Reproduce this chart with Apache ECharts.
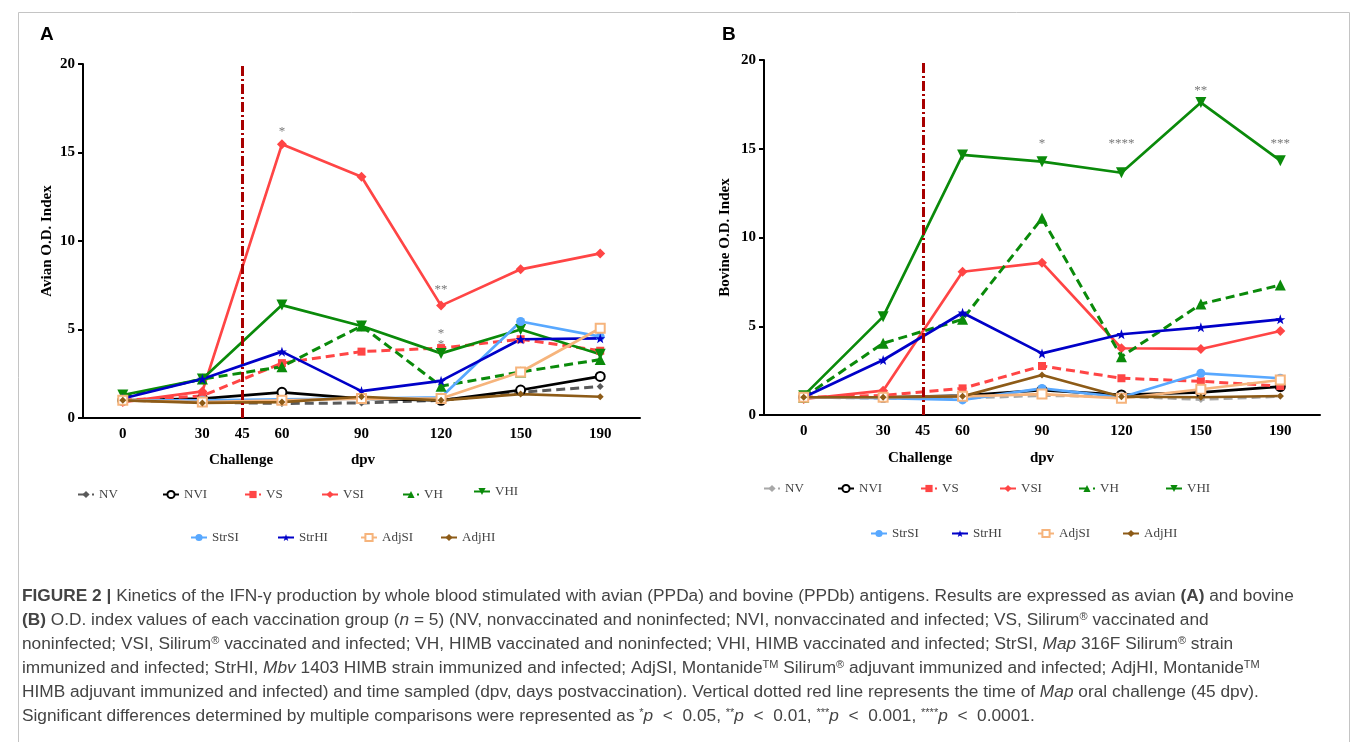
<!DOCTYPE html>
<html><head><meta charset="utf-8">
<script src="https://cdn.jsdelivr.net/npm/echarts@6/dist/echarts.min.js"></script>
<style>html,body{margin:0;padding:0;background:#fff}#c{width:1357px;height:742px}</style>
</head><body><div id="c"></div>
<script>
// ---------- DATA ----------
const xCategories = ['-15','0','15','30','45','60','75','90','105','120','135','150','170','190','210'];
const xTickLabels = ['0','30','45','60','90','120','150','190'];
const sampleDays = ['0','30','60','90','120','150','190'];
const challengeDay = '45';
const groups = ['NV','NVI','VS','VSI','VH','VHI','StrSI','StrHI','AdjSI','AdjHI'];

const avianNV    = [1.0, 0.9, 0.82, 0.85, 1.0, 1.45, 1.78];
const avianNVI   = [1.0, 1.1, 1.45, 1.1, 1.0, 1.58, 2.35];
const avianVS    = [1.0, 1.25, 3.1, 3.75, 3.95, 4.45, 3.8];
const avianVSI   = [0.9, 1.5, 15.46, 13.63, 6.35, 8.4, 9.3];
const avianVH    = [1.2, 2.2, 2.9, 5.2, 1.8, 2.6, 3.3];
const avianVHI   = [1.3, 2.2, 6.38, 5.2, 3.65, 5.0, 3.6];
const avianStrSI = [1.0, 1.0, 1.05, 1.1, 1.17, 5.45, 4.6];
const avianStrHI = [1.1, 2.2, 3.75, 1.52, 2.1, 4.45, 4.5];
const avianAdjSI = [1.0, 0.9, 1.0, 1.1, 1.1, 2.6, 5.07];
const avianAdjHI = [1.0, 0.85, 0.9, 1.2, 1.0, 1.35, 1.2];

const bovineNV    = [1.0, 0.95, 0.95, 1.1, 1.05, 0.88, 1.05];
const bovineNVI   = [1.0, 1.0, 1.1, 1.4, 1.13, 1.28, 1.6];
const bovineVS    = [1.0, 1.1, 1.5, 2.76, 2.07, 1.9, 1.63];
const bovineVSI   = [0.9, 1.37, 8.07, 8.58, 3.76, 3.72, 4.73];
const bovineVH    = [1.0, 4.04, 5.39, 11.08, 3.28, 6.25, 7.32];
const bovineVHI   = [1.09, 5.54, 14.65, 14.27, 13.65, 17.6, 14.33];
const bovineStrSI = [1.0, 0.95, 0.85, 1.5, 1.0, 2.35, 2.07];
const bovineStrHI = [1.0, 3.1, 5.76, 3.47, 4.55, 4.94, 5.39];
const bovineAdjSI = [1.0, 1.0, 1.05, 1.18, 0.94, 1.45, 1.97];
const bovineAdjHI = [1.0, 1.0, 1.05, 2.25, 1.03, 1.0, 1.07];

const avianSigDays  = ['60','120','120','120'];
const avianSigVals  = [16.4, 7.46, 4.97, 4.37];
const avianSigMarks = ['*','**','*','*'];
const bovineSigDays  = ['90','120','150','190'];
const bovineSigVals  = [15.5, 15.5, 18.5, 15.5];
const bovineSigMarks = ['*','****','**','***'];

const avianValues = {NV:avianNV,NVI:avianNVI,VS:avianVS,VSI:avianVSI,VH:avianVH,VHI:avianVHI,StrSI:avianStrSI,StrHI:avianStrHI,AdjSI:avianAdjSI,AdjHI:avianAdjHI};
const bovineValues = {NV:bovineNV,NVI:bovineNVI,VS:bovineVS,VSI:bovineVSI,VH:bovineVH,VHI:bovineVHI,StrSI:bovineStrSI,StrHI:bovineStrHI,AdjSI:bovineAdjSI,AdjHI:bovineAdjHI};

// ---------- STYLES ----------
const SERIF = '"Liberation Serif","Times New Roman",serif';
const SANS = '"Liberation Sans",Arial,sans-serif';
const starPath = 'path://M0,-10 L2.4,-3.1 9.5,-3.1 3.8,1.2 5.9,8.1 0,4 -5.9,8.1 -3.8,1.2 -9.5,-3.1 -2.4,-3.1 Z';
const styleOf = {
  NV:{colorA:'#5a5a5a',colorB:'#a8a8a8',dashed:true,symbol:'diamond',size:7},
  NVI:{color:'#000000',symbol:'emptyCircle',size:9},
  VS:{color:'#ff4545',dashed:true,symbol:'rect',size:8},
  VSI:{color:'#ff4545',symbol:'diamond',size:10},
  VH:{color:'#0a8a0a',dashed:true,symbol:'triangle',size:11},
  VHI:{color:'#0a8a0a',symbol:'triangle',rotate:180,size:11},
  StrSI:{color:'#58a8ff',symbol:'circle',size:9},
  StrHI:{color:'#0000c8',symbol:starPath,size:10},
  AdjSI:{color:'#f6b47c',symbol:'emptyRect',size:9},
  AdjHI:{color:'#8d5b17',symbol:'diamond',size:7}
};
const legendPosA = [[77,496],[162,496],[244,496],[321,496],[402,496],[473,493],[190,539],[277,539],[360,539],[440,539]];
const legendPosB = [[763,490],[837,490],[920,490],[999,490],[1078,490],[1165,490],[870,535],[951,535],[1037,535],[1122,535]];

function makeSeries(panel, idx, g, values) {
  const st = styleOf[g];
  const color = panel === 'A' ? (st.colorA || st.color) : (st.colorB || st.color);
  const empty = typeof st.symbol === 'string' && st.symbol.indexOf('empty') === 0;
  return {
    type:'line', name: panel + ':' + g, xAxisIndex: idx, yAxisIndex: idx,
    data: sampleDays.map((d,i) => [d, values[i]]),
    symbol: st.symbol, symbolSize: st.size, symbolRotate: st.rotate || 0, showAllSymbol: true,
    itemStyle: {color: color, borderWidth: empty ? 1.6 : 0},
    lineStyle: {color: color, width: st.dashed ? 3 : 2.7, type: st.dashed ? [9,5] : 'solid'},
    emphasis: {disabled: true}, animation: false
  };
}
function sigSeries(idx, days, vals, marks) {
  return {
    type:'scatter', xAxisIndex: idx, yAxisIndex: idx, symbol:'circle', symbolSize: 1,
    itemStyle:{color:'rgba(0,0,0,0)'}, animation:false, silent:true,
    data: days.map((d,i) => ({value:[d, vals[i]], mark: marks[i]})),
    label:{show:true, position:'inside', offset:[0,4], color:'#555', fontFamily:SERIF, fontSize:13,
      formatter: p => p.data.mark}
  };
}
function xAxisCfg(idx) {
  return {type:'category', gridIndex: idx, data: xCategories, boundaryGap:false,
    axisLine:{lineStyle:{color:'#000', width:2}}, axisTick:{show:false},
    axisLabel:{interval:0, margin:9, color:'#000', fontFamily:SERIF, fontWeight:'bold', fontSize:15,
      formatter: v => xTickLabels.indexOf(v) >= 0 ? v : ''},
    splitLine:{show:false}};
}
function yAxisCfg(idx, name, gap) {
  return {type:'value', gridIndex: idx, min:0, max:20, interval:5,
    axisLine:{show:true, lineStyle:{color:'#000', width:2}},
    axisTick:{show:true, length:5, lineStyle:{color:'#000', width:2}},
    axisLabel:{margin:8, color:'#000', fontFamily:SERIF, fontWeight:'bold', fontSize:15},
    splitLine:{show:false},
    name: name, nameLocation:'middle', nameGap: gap,
    nameTextStyle:{color:'#000', fontFamily:SERIF, fontWeight:'bold', fontSize:15}};
}

const series = [];
groups.forEach(g => series.push(makeSeries('A', 0, g, avianValues[g])));
groups.forEach(g => series.push(makeSeries('B', 1, g, bovineValues[g])));
[0,1].forEach(idx => series.push({
  type:'line', xAxisIndex: idx, yAxisIndex: idx, data: [], silent:true, animation:false,
  markLine:{symbol:['none','none'], silent:true, animation:false, label:{show:false},
    lineStyle:{color:'#a80000', width:3, type:[10,3,2,3]}, data:[{xAxis: challengeDay}]}
}));
series.push(sigSeries(0, avianSigDays, avianSigVals, avianSigMarks));
series.push(sigSeries(1, bovineSigDays, bovineSigVals, bovineSigMarks));

const legends = [];
groups.forEach((g,i) => {
  [['A', legendPosA], ['B', legendPosB]].forEach(([p, pos]) => {
    legends.push({data:[p + ':' + g], left: pos[i][0], top: pos[i][1] - 8, padding:0, itemGap:0,
      itemWidth:16, itemHeight:9, selectedMode:false, formatter: n => n.split(':')[1],
      textStyle:{fontFamily:SERIF, fontSize:13, color:'#444'}});
  });
});

// caption
const CAP = 17.3;
const capRich = {
  b:{fontFamily:SANS, fontSize:CAP, fontWeight:'bold', color:'#333'},
  i:{fontFamily:SANS, fontSize:CAP, fontStyle:'italic', color:'#444'},
  s:{fontFamily:SANS, fontSize:11, color:'#444', verticalAlign:'top', padding:[0,0,7,0]}
};
const captionLines = [
  '{b|FIGURE 2 |} Kinetics of the IFN-γ production by whole blood stimulated with avian (PPDa) and bovine (PPDb) antigens. Results are expressed as avian {b|(A)} and bovine',
  '{b|(B)} O.D. index values of each vaccination group ({i|n} = 5) (NV, nonvaccinated and noninfected; NVI, nonvaccinated and infected; VS, Silirum{s|®} vaccinated and',
  'noninfected; VSI, Silirum{s|®} vaccinated and infected; VH, HIMB vaccinated and noninfected; VHI, HIMB vaccinated and infected; StrSI, {i|Map} 316F Silirum{s|®} strain',
  'immunized and infected; StrHI, {i|Mbv} 1403 HIMB strain immunized and infected; AdjSI, Montanide{s|TM} Silirum{s|®} adjuvant immunized and infected; AdjHI, Montanide{s|TM}',
  'HIMB adjuvant immunized and infected) and time sampled (dpv, days postvaccination). Vertical dotted red line represents the time of {i|Map} oral challenge (45 dpv).',
  'Significant differences determined by multiple comparisons were represented as {s|*}{i|p}  <  0.05, {s|**}{i|p}  <  0.01, {s|***}{i|p}  <  0.001, {s|****}{i|p}  <  0.0001.'
];
const graphics = [
  {type:'rect', z:-10, silent:true, shape:{x:18.5, y:12.5, width:1331, height:740}, style:{fill:'none', stroke:'#c4c4c4', lineWidth:1}},
  {type:'text', x:40, y:35, style:{text:'A', fontFamily:SANS, fontWeight:'bold', fontSize:19, fill:'#000', textVerticalAlign:'middle'}},
  {type:'text', x:722, y:35, style:{text:'B', fontFamily:SANS, fontWeight:'bold', fontSize:19, fill:'#000', textVerticalAlign:'middle'}},
  {type:'text', x:241, y:460, style:{text:'Challenge', fontFamily:SERIF, fontWeight:'bold', fontSize:15, fill:'#000', textAlign:'center', textVerticalAlign:'middle'}},
  {type:'text', x:363, y:460, style:{text:'dpv', fontFamily:SERIF, fontWeight:'bold', fontSize:15, fill:'#000', textAlign:'center', textVerticalAlign:'middle'}},
  {type:'text', x:920, y:458, style:{text:'Challenge', fontFamily:SERIF, fontWeight:'bold', fontSize:15, fill:'#000', textAlign:'center', textVerticalAlign:'middle'}},
  {type:'text', x:1042, y:458, style:{text:'dpv', fontFamily:SERIF, fontWeight:'bold', fontSize:15, fill:'#000', textAlign:'center', textVerticalAlign:'middle'}}
];
captionLines.forEach((t,i) => graphics.push({type:'text', x:22, y:596 + i*24,
  style:{text:t, rich:capRich, fontFamily:SANS, fontSize:CAP, fill:'#444', textVerticalAlign:'middle'}}));

const chart = echarts.init(document.getElementById('c'), null, {renderer:'canvas'});
chart.setOption({
  backgroundColor:'#fff', animation:false,
  grid:[{left:83, top:64, width:557, height:354}, {left:764, top:60, width:556, height:355}],
  xAxis:[xAxisCfg(0), xAxisCfg(1)],
  yAxis:[yAxisCfg(0, 'Avian O.D. Index', 28), yAxisCfg(1, 'Bovine O.D. Index', 31)],
  legend: legends,
  series: series,
  graphic: graphics
});
</script></body></html>
